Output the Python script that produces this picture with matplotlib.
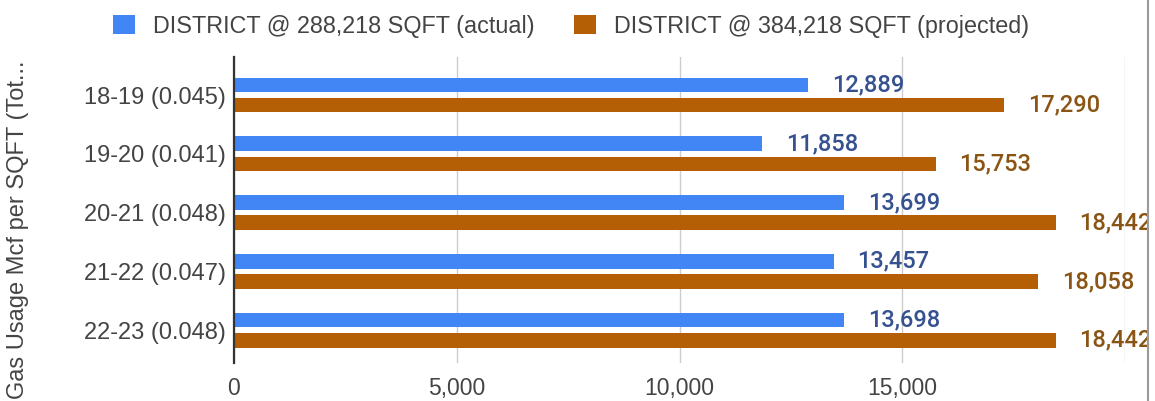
import matplotlib
matplotlib.use("Agg")
import matplotlib.pyplot as plt
from matplotlib.patches import Patch, Rectangle
from matplotlib.lines import Line2D

categories = ["18-19 (0.045)", "19-20 (0.041)", "20-21 (0.048)", "21-22 (0.047)", "22-23 (0.048)"]
actual = [12889, 11858, 13699, 13457, 13698]
projected = [17290, 15753, 18442, 18058, 18442]
series_names = ["DISTRICT @ 288,218 SQFT (actual)", "DISTRICT @ 384,218 SQFT (projected)"]
x_ticks = [0, 5000, 10000, 15000, 20000]
x_tick_labels = ["0", "5,000", "10,000", "15,000", ""]
y_label = "Gas Usage Mcf per SQFT (Tot..."

BLUE = "#4285F4"
ORANGE = "#B45F06"
BLUE_LBL = "#35518f"
ORANGE_LBL = "#8a5514"
TXT = "#444444"
FONT = "Liberation Sans"

W, H = 1155, 401
fig = plt.figure(figsize=(W / 100, H / 100), dpi=100)
fig.patch.set_facecolor("white")

left, right, top, bottom = 234, 1125, 57, 363
ax = fig.add_axes([left / W, 1 - bottom / H, (right - left) / W, (bottom - top) / H])

ys = list(range(len(categories)))
off = 0.172
h = 0.25
ax.barh([y - off for y in ys], actual, height=h, color=BLUE, zorder=3)
ax.barh([y + off for y in ys], projected, height=h, color=ORANGE, zorder=3)

for y, v in zip(ys, actual):
    ax.annotate(f"{v:,}", xy=(v, y - off), xytext=(17, 0), textcoords="offset points",
                ha="left", va="center", fontsize=17, family="Roboto", fontweight="medium",
                color=BLUE_LBL, zorder=4)
for y, v in zip(ys, projected):
    ax.annotate(f"{v:,}", xy=(v, y + off), xytext=(17, 0), textcoords="offset points",
                ha="left", va="center", fontsize=17, family="Roboto", fontweight="medium",
                color=ORANGE_LBL, zorder=4)

ax.set_xlim(0, 20000)
ax.set_ylim(4.56, -0.647)
ax.set_xticks(x_ticks)
ax.set_xticklabels(x_tick_labels, family=FONT, fontsize=16.5, color=TXT)
ax.set_yticks(ys)
ax.set_yticklabels(categories, family=FONT, fontsize=17, color=TXT)
ax.tick_params(axis="both", length=0)
ax.tick_params(axis="y", pad=6)
ax.tick_params(axis="x", pad=10)
ax.grid(axis="x", color="#cccccc", linewidth=1, zorder=0)
for s in ["top", "right", "bottom"]:
    ax.spines[s].set_visible(False)
ax.spines["left"].set_color("#333333")
ax.spines["left"].set_linewidth(1.6)
ax.spines["left"].set_zorder(5)

fig.text(18 / W, 1 - 230 / H, y_label, rotation=90, ha="center", va="center",
         family=FONT, fontsize=17, color=TXT)

handles = [Patch(facecolor=BLUE, edgecolor="none"), Patch(facecolor=ORANGE, edgecolor="none")]
fig.legend(handles, series_names, loc="center", bbox_to_anchor=(571 / W, 1 - 26 / H), ncol=2,
           frameon=False, handlelength=0.93, handleheight=0.93, handletextpad=0.76,
           columnspacing=1.7, prop={"family": FONT, "size": 16.8}, labelcolor=TXT,
           borderaxespad=0, borderpad=0)

# right edge of the screenshot
fig.add_artist(Rectangle((1148 / W, 0), 7 / W, 1, transform=fig.transFigure,
                         facecolor="white", edgecolor="none", zorder=20))
fig.add_artist(Line2D([1147.5 / W, 1147.5 / W], [0, 1], transform=fig.transFigure,
                      color="#9a9a9a", linewidth=1.5, zorder=21))

fig.savefig("out.png", dpi=100, facecolor="white")
